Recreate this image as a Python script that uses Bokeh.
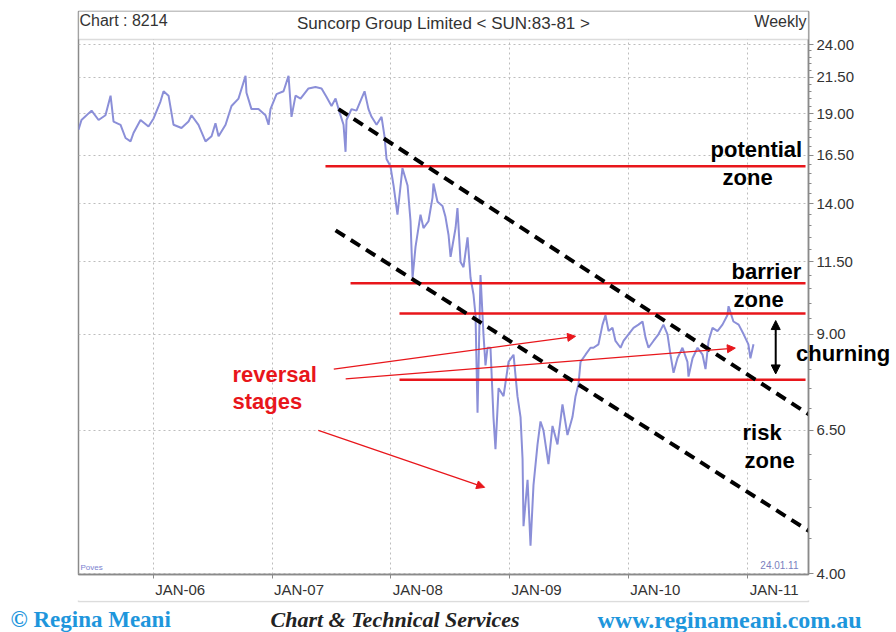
from bokeh.plotting import figure
from bokeh.models import (Range1d, FixedTicker, Label, Arrow, NormalHead,
                          BoxAnnotation, ColumnDataSource, CustomJSTickFormatter)
from bokeh.layouts import column
from bokeh.embed import file_html
from bokeh.resources import INLINE

# ---- price series (decimal year, price in $) ----
years = [2005.371, 2005.396, 2005.481, 2005.540, 2005.598, 2005.641, 2005.666, 2005.725,
         2005.767, 2005.809, 2005.834, 2005.893, 2005.960, 2006.003, 2006.061, 2006.087,
         2006.129, 2006.171, 2006.238, 2006.297, 2006.322, 2006.381, 2006.440, 2006.491,
         2006.524, 2006.550, 2006.609, 2006.659, 2006.718, 2006.777, 2006.785, 2006.827,
         2006.886, 2006.945, 2006.971, 2006.987, 2007.038, 2007.097, 2007.139, 2007.164,
         2007.198, 2007.240, 2007.307, 2007.366, 2007.417, 2007.459, 2007.501, 2007.535,
         2007.560, 2007.602, 2007.619, 2007.627, 2007.669, 2007.711, 2007.753, 2007.779,
         2007.812, 2007.838, 2007.880, 2007.922, 2007.947, 2007.964, 2007.997, 2008.023,
         2008.056, 2008.098, 2008.141, 2008.166, 2008.183, 2008.208, 2008.250, 2008.275,
         2008.317, 2008.351, 2008.359, 2008.393, 2008.435, 2008.460, 2008.486, 2008.503,
         2008.545, 2008.561, 2008.587, 2008.612, 2008.646, 2008.671, 2008.696, 2008.713,
         2008.730, 2008.755, 2008.780, 2008.797, 2008.814, 2008.839, 2008.864, 2008.881,
         2008.907, 2008.949, 2008.991, 2009.033, 2009.066, 2009.092, 2009.109, 2009.117,
         2009.151, 2009.176, 2009.201, 2009.235, 2009.260, 2009.285, 2009.327, 2009.361,
         2009.403, 2009.445, 2009.487, 2009.529, 2009.555, 2009.580, 2009.597, 2009.639,
         2009.681, 2009.706, 2009.748, 2009.782, 2009.807, 2009.833, 2009.866, 2009.891,
         2009.934, 2009.959, 2010.001, 2010.043, 2010.085, 2010.119, 2010.144, 2010.169,
         2010.211, 2010.253, 2010.295, 2010.329, 2010.354, 2010.380, 2010.413, 2010.455,
         2010.497, 2010.506, 2010.540, 2010.582, 2010.624, 2010.649, 2010.675, 2010.708,
         2010.750, 2010.792, 2010.833, 2010.843, 2010.884, 2010.928, 2010.970, 2011.010,
         2011.027, 2011.053]
prices = [18.0, 18.6, 19.2, 18.6, 18.9, 20.2, 18.5, 18.3,
          17.5, 17.3, 17.8, 18.6, 18.2, 18.7, 19.8, 20.5,
          20.2, 18.3, 18.1, 18.5, 18.9, 18.3, 17.3, 17.6,
          18.4, 17.6, 18.3, 19.5, 20.0, 21.6, 20.4, 19.3,
          19.3, 18.9, 18.3, 19.3, 20.3, 20.5, 21.6, 18.8,
          20.2, 20.0, 20.7, 20.8, 20.7, 20.1, 19.5, 20.0,
          19.3, 18.3, 16.7, 18.6, 19.3, 19.2, 20.0, 20.5,
          19.3, 18.8, 18.3, 18.8, 17.6, 16.3, 15.9, 14.9,
          13.5, 15.8, 14.9, 13.2, 10.9, 12.1, 13.5, 12.9,
          13.2, 14.3, 15.0, 14.1, 13.9, 13.4, 12.6, 11.7,
          12.9, 13.8, 11.5, 11.3, 12.5, 10.9, 10.3, 9.6,
          6.9, 11.0, 9.0, 8.1, 8.6, 8.6, 6.8, 6.1,
          7.5, 7.3, 8.2, 8.4, 7.3, 6.8, 5.9, 4.7,
          5.5, 4.4, 5.4, 6.2, 6.7, 6.5, 5.8, 6.6,
          6.2, 7.1, 6.4, 6.8, 7.3, 7.6, 8.2, 8.4,
          8.6, 8.6, 8.7, 9.3, 9.6, 9.1, 9.2, 8.8,
          8.6, 8.8, 9.0, 9.2, 9.3, 9.4, 8.9, 8.6,
          8.8, 9.0, 9.3, 9.0, 8.4, 7.9, 8.3, 8.6,
          8.2, 7.8, 8.3, 8.6, 8.4, 8.0, 8.8, 9.2,
          9.1, 9.3, 9.6, 9.9, 9.4, 9.3, 9.0, 8.7,
          8.3, 8.7]

# ---- axes ----
tick_years = [2006, 2007, 2008, 2009, 2010, 2011]
tick_year_labels = ["JAN-06", "JAN-07", "JAN-08", "JAN-09", "JAN-10", "JAN-11"]
price_ticks = [4.0, 6.5, 9.0, 11.5, 14.0, 16.5, 19.0, 21.5, 24.0]
price_minor = [4.5, 5.0, 5.5, 6.0, 7.0, 7.5, 8.0, 8.5, 9.5, 10.0, 10.5, 11.0, 12.0, 12.5,
               13.0, 13.5, 14.5, 15.0, 15.5, 16.0, 17.0, 17.5, 18.0, 18.5, 19.5, 20.0,
               20.5, 21.0, 22.0, 22.5, 23.0, 23.5]

# ---- annotation levels ----
zone_levels = [15.9, 10.7, 9.66, 7.72]
zone_start = [2007.450, 2007.661, 2008.073, 2008.073]
zone_end = [2011.491, 2011.491, 2011.491, 2011.491]

channel_x0 = [2007.560, 2007.535]
channel_y0 = [19.3, 12.8]
channel_x1 = [2011.60, 2011.60]
channel_y1 = [6.72, 4.53]

arrow_x0 = [2007.52, 2007.62, 2007.39]
arrow_y0 = [8.0, 7.74, 6.50]
arrow_x1 = [2009.555, 2010.90, 2008.79]
arrow_y1 = [8.94, 8.59, 5.36]

churn_x = 2011.24
churn_lo = 7.87
churn_hi = 9.43

RED = "#e8161b"
FONT = "Liberation Sans"
GREY = "#8a8a8a"

p = figure(width=896, height=600, output_backend="svg", toolbar_location=None,
           y_axis_type="log", y_axis_location="right",
           x_range=Range1d(2005.371, 2011.516), y_range=Range1d(3.99, 26.86),
           min_border_left=78, min_border_right=88, min_border_top=11, min_border_bottom=25,
           background_fill_color="white", border_fill_color="white")

p.outline_line_color = GREY
p.outline_line_width = 1.5

# x axis: labels start just right of the year tick
label_shift = 0.227
p.xaxis.ticker = FixedTicker(ticks=[y + label_shift for y in tick_years], minor_ticks=tick_years)
p.xaxis.major_label_overrides = {y + label_shift: l for y, l in zip(tick_years, tick_year_labels)}
p.xaxis.major_label_text_font = FONT
p.xaxis.major_label_text_font_size = "15px"
p.xaxis.major_label_text_color = "#333333"
p.xaxis.axis_line_color = GREY
p.xaxis.axis_line_width = 1.5
p.xaxis.major_tick_line_color = None
p.xaxis.minor_tick_line_color = GREY
p.xaxis.minor_tick_in = 0
p.xaxis.minor_tick_out = 4
p.xaxis.major_tick_in = 0
p.xaxis.major_tick_out = 3
p.xaxis.major_label_standoff = 2

# y axis (right)
p.yaxis.ticker = FixedTicker(ticks=price_ticks, minor_ticks=price_minor)
p.yaxis.formatter = CustomJSTickFormatter(code="return tick.toFixed(2)")
p.yaxis.major_label_text_font = FONT
p.yaxis.major_label_text_font_size = "15px"
p.yaxis.major_label_text_color = "#333333"
p.yaxis.axis_line_color = GREY
p.yaxis.axis_line_width = 1.5
p.yaxis.major_tick_line_color = GREY
p.yaxis.minor_tick_line_color = GREY
p.yaxis.major_tick_in = 0
p.yaxis.major_tick_out = 5
p.yaxis.minor_tick_in = 0
p.yaxis.minor_tick_out = 3
p.yaxis.major_label_standoff = 3
# "churning" note sits over the axis area
p.yaxis.axis_label = "\n\n\n\nchurning"
p.yaxis.axis_label_orientation = "horizontal"
p.yaxis.axis_label_text_font = FONT
p.yaxis.axis_label_text_font_size = "22px"
p.yaxis.axis_label_text_font_style = "bold"
p.yaxis.axis_label_text_color = "black"
p.yaxis.axis_label_standoff = -61

# grids
p.xgrid.ticker = FixedTicker(ticks=tick_years)
p.ygrid.ticker = FixedTicker(ticks=price_ticks)
for g in (p.xgrid, p.ygrid):
    g.grid_line_color = "#bdbdbd"
    g.grid_line_dash = "2 3"
    g.grid_line_width = 1

# price line
src = ColumnDataSource(data=dict(x=years, y=prices))
p.line("x", "y", source=src, line_color="#8b8fd8", line_width=2)

# zone lines
p.segment(x0=zone_start, y0=zone_levels, x1=zone_end, y1=zone_levels,
          line_color=RED, line_width=2.5)

# channel lines
p.segment(x0=channel_x0, y0=channel_y0, x1=channel_x1, y1=channel_y1,
          line_color="black", line_width=4, line_dash="11 7")

# arrows
for xs, ys, xe, ye in zip(arrow_x0, arrow_y0, arrow_x1, arrow_y1):
    p.add_layout(Arrow(end=NormalHead(size=8, fill_color=RED, line_color=RED),
                       x_start=xs, y_start=ys, x_end=xe, y_end=ye,
                       line_color=RED, line_width=1.2))

p.add_layout(Arrow(start=NormalHead(size=9, fill_color="black", line_color="black"),
                   end=NormalHead(size=9, fill_color="black", line_color="black"),
                   x_start=churn_x, y_start=churn_lo, x_end=churn_x, y_end=churn_hi,
                   line_color="black", line_width=2))

# header band (inside the frame's top strip)
p.add_layout(BoxAnnotation(left=0, right=730, bottom=535, top=564,
                           left_units="screen", right_units="screen",
                           bottom_units="screen", top_units="screen",
                           fill_color="white", fill_alpha=1,
                           line_color=GREY, line_width=1.5))


def lab(fig, x, y, text, size, color="black", style="normal", align="left", font=FONT):
    fig.add_layout(Label(x=x, y=y, x_units="screen", y_units="screen", text=text,
                         text_font=font, text_font_size=size, text_color=color,
                         text_font_style=style, text_align=align,
                         text_baseline="middle"))


# header
lab(p, 1, 554, "Chart : 8214", "16px", color="#333333")
lab(p, 365, 551, "Suncorp Group Limited < SUN:83-81 >", "17px", color="#333333", align="center")
lab(p, 728, 553, "Weekly", "16px", color="#333333", align="right")
lab(p, 2, 7, "Poves", "8px", color="#7a7fd0")
lab(p, 720, 10, "24.01.11", "10px", color="#7a7fc0", align="right")

# annotations
lab(p, 632, 425, "potential", "22px", style="bold")
lab(p, 644, 397, "zone", "22px", style="bold")
lab(p, 653, 303, "barrier", "22px", style="bold")
lab(p, 655, 275, "zone", "22px", style="bold")
lab(p, 664, 142, "risk", "22px", style="bold")
lab(p, 666, 114, "zone", "22px", style="bold")
lab(p, 154, 200, "reversal", "22px", color=RED, style="bold")
lab(p, 154, 173, "stages", "22px", color=RED, style="bold")

# footer strip
f = figure(width=896, height=32, output_backend="svg", toolbar_location=None,
           x_axis_type=None, y_axis_type=None,
           x_range=Range1d(0, 896), y_range=Range1d(0, 32),
           min_border=0, min_border_left=0, min_border_right=0,
           min_border_top=0, min_border_bottom=0,
           background_fill_color="white", border_fill_color="white")
f.outline_line_color = None
f.grid.visible = False
for fig in (p, f):
    try:
        fig.frame_align = False
    except Exception:
        pass
f.add_layout(BoxAnnotation(left=78, right=808, bottom=31, top=40,
                           left_units="screen", right_units="screen",
                           bottom_units="screen", top_units="screen",
                           fill_alpha=0, line_color=GREY, line_width=1.5))
lab(f, 10, 13, "© Regina Meani", "23px", color="#1e96dc", style="bold", font="Liberation Serif")
lab(f, 270, 13, "Chart & Technical Services", "22px", color="#222222", style="bold italic",
    font="Liberation Serif")
lab(f, 597, 13, "www.reginameani.com.au", "24px", color="#1e96dc", style="bold",
    font="Liberation Serif")

layout = column(p, f, spacing=0)
open("out.html", "w").write(file_html(layout, INLINE))
